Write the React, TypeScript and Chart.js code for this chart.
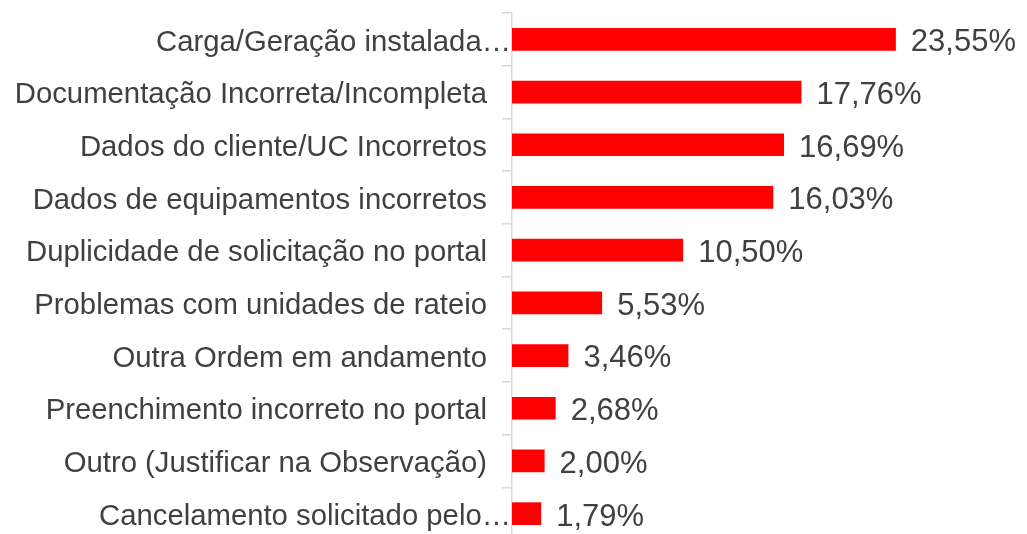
import React, { useEffect, useRef } from "react";
import { Chart, registerables } from "chart.js";

Chart.register(...registerables);

const categories: string[] = [
  "Carga/Geração instalada…",
  "Documentação Incorreta/Incompleta",
  "Dados do cliente/UC Incorretos",
  "Dados de equipamentos incorretos",
  "Duplicidade de solicitação no portal",
  "Problemas com unidades de rateio",
  "Outra Ordem em andamento",
  "Preenchimento incorreto no portal",
  "Outro (Justificar na Observação)",
  "Cancelamento solicitado pelo…",
];

const percentages: number[] = [23.55, 17.76, 16.69, 16.03, 10.5, 5.53, 3.46, 2.68, 2.0, 1.79];

const FONT = "'Liberation Sans', Arial, sans-serif";
const TEXT_COLOR = "#404040";
const VALUE_SIZE = 31;
const CAT_SIZE = 29.3;

const valueLabelPlugin = {
  id: "valueLabels",
  afterDatasetsDraw(chart: any) {
    const ctx = chart.ctx;
    const meta = chart.getDatasetMeta(0);
    ctx.save();
    ctx.font = `${VALUE_SIZE}px ${FONT}`;
    ctx.fillStyle = TEXT_COLOR;
    ctx.textAlign = "left";
    ctx.textBaseline = "alphabetic";
    meta.data.forEach((bar: any, i: number) => {
      const v = percentages[i];
      const txt = v.toFixed(2).replace(".", ",") + "%";
      ctx.fillText(txt, bar.x + 15, bar.y + 0.36 * VALUE_SIZE + 0.7);
    });
    ctx.restore();
  },
};

const categoryLabelPlugin = {
  id: "categoryLabels",
  afterDraw(chart: any) {
    const ctx = chart.ctx;
    const yScale = chart.scales.y;
    const left = chart.chartArea.left;
    ctx.save();
    ctx.font = `${CAT_SIZE}px ${FONT}`;
    ctx.fillStyle = TEXT_COLOR;
    ctx.textAlign = "right";
    ctx.textBaseline = "alphabetic";
    categories.forEach((label, i) => {
      const y = yScale.getPixelForValue(i);
      const truncated = label.endsWith("…");
      const x = left - 25 + (truncated ? 24 : 0);
      ctx.fillText(label, x, y + 0.36 * CAT_SIZE + 0.7);
    });
    ctx.restore();
  },
};

export default function App() {
  const canvasRef = useRef<HTMLCanvasElement | null>(null);

  useEffect(() => {
    if (!canvasRef.current) return;
    const chart = new Chart(canvasRef.current, {
      type: "bar",
      data: {
        labels: categories,
        datasets: [
          {
            data: percentages,
            backgroundColor: "#FF0000",
            borderWidth: 0,
            barPercentage: 0.43,
            categoryPercentage: 1,
          },
        ],
      },
      options: {
        indexAxis: "y",
        animation: false,
        responsive: true,
        maintainAspectRatio: false,
        layout: { padding: { left: 0, right: 26, top: 13, bottom: 1 } },
        plugins: {
          legend: { display: false },
          tooltip: { enabled: false },
          title: { display: false },
        },
        scales: {
          x: {
            display: false,
            min: 0,
            max: 30,
          },
          y: {
            afterFit: (scale: any) => {
              scale.width = 512;
            },
            border: { display: true, color: "#d9d9d9", width: 1.5 },
            grid: {
              display: true,
              drawOnChartArea: false,
              drawTicks: true,
              tickLength: 10,
              color: "#d9d9d9",
              lineWidth: 1.5,
              offset: true,
            },
            ticks: { display: false },
          },
        },
      },
      plugins: [valueLabelPlugin, categoryLabelPlugin],
    });
    return () => chart.destroy();
  }, []);

  return (
    <div
      style={{
        position: "fixed",
        left: 0,
        top: 0,
        width: 1027,
        height: 534,
        overflow: "hidden",
        background: "#ffffff",
      }}
    >
      <div style={{ position: "relative", width: 1027, height: 541 }}>
        <canvas ref={canvasRef} />
      </div>
    </div>
  );
}
